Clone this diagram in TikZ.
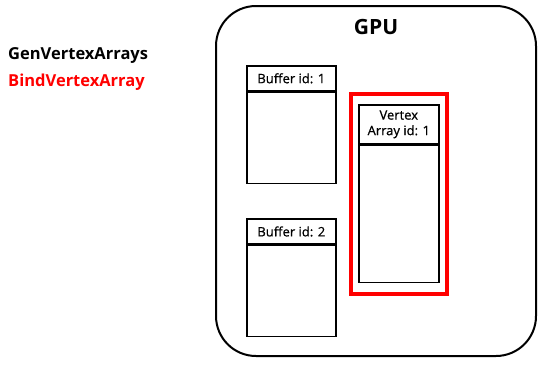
\documentclass[tikz,border=0pt]{standalone}
\usepackage{fontspec}
\setmainfont{Open Sans}
\newfontfamily\labelfont{Open Sans}[FakeBold=0.8]
\usetikzlibrary{positioning, fit}

\begin{document}
\begin{tikzpicture}[
  x=1pt, y=-1pt,
  every node/.style={font=\labelfont\fontsize{13}{15.5}\selectfont, inner sep=2pt},
  box/.style={draw, line width=1.6pt, minimum width=89pt},
  hdr/.style={box, minimum height=25pt},
  cmd/.style={font=\fontsize{16.5}{19}\selectfont\bfseries, anchor=west, inner sep=0pt}
]
  \useasboundingbox (0,0) rectangle (548,364);

  % GPU
  \node (gpu) [draw, line width=2pt, rounded corners=40pt,
               minimum width=320pt, minimum height=350pt] at (376,181) {};
  \node (gputxt) [font=\fontsize{21}{24}\selectfont\bfseries] at (376,27) {GPU};

  % Buffers
  \node (buf1h) [hdr, anchor=north west] at (246,65) {Buffer id: 1};
  \node (buf1)  [box, minimum height=91pt, below=0pt of buf1h] {};
  \node (buf2h) [hdr, below=34pt of buf1] {Buffer id: 2};
  \node (buf2)  [box, minimum height=91pt, below=0pt of buf2h] {};

  % Vertex array
  \node (vah) [hdr, minimum width=80pt, minimum height=39pt, align=center,
               anchor=north west] at (358,104) {Vertex\\Array id: 1};
  \node (va)  [box, minimum width=80pt, minimum height=137pt, below=0pt of vah] {};

  % Bound
  \node (bound) [draw=red, line width=4pt, fit=(vah)(va),
                 inner xsep=7.5pt, inner ysep=10.5pt] {};

  % Calls
  \node (gen)  [cmd] at (8,56) {GenVertexArrays};
  \node (bind) [cmd, text=red] at (8,82) {BindVertexArray};
\end{tikzpicture}
\end{document}
